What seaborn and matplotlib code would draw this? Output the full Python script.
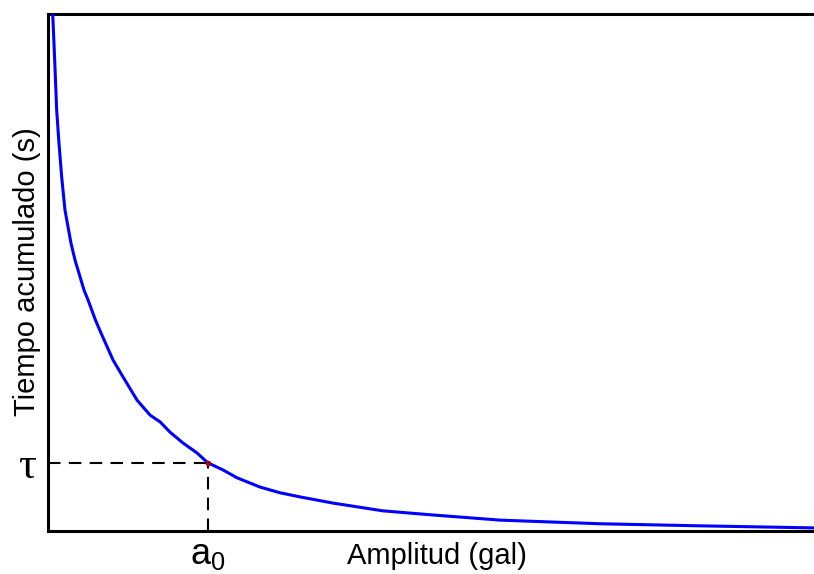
import numpy as np
import pandas as pd
import matplotlib
matplotlib.use("Agg")
import matplotlib.pyplot as plt
import seaborn as sns

sns.set_theme(style="white")
plt.rcParams['font.family'] = ['Liberation Sans', 'DejaVu Sans']

# curva (unidades arbitrarias 0-100)
amplitud = [0.6, 0.87, 1.13, 1.43, 1.78, 2.21, 2.99, 3.52, 4.69, 5.21, 6.18, 6.90,
            8.46, 9.77, 11.6, 13.3, 14.6, 15.9, 17.6, 19.4, 20.8, 22.8, 24.6, 27.6,
            30.2, 32.8, 37.1, 43.6, 50.1, 58.9, 71.9, 84.9, 99.7]
tiempo = [100.5, 91.1, 81.4, 75.0, 68.5, 62.1, 55.7, 52.4, 46.6, 44.7, 40.8, 38.3,
          33.1, 29.8, 25.3, 22.4, 21.1, 19.1, 17.0, 15.1, 13.2, 11.8, 10.3, 8.5,
          7.4, 6.6, 5.4, 3.9, 3.1, 2.1, 1.4, 1.0, 0.6]

a0 = 20.8
tau = 13.2

df = pd.DataFrame({"Amplitud": amplitud, "Tiempo": tiempo})

fig = plt.figure(figsize=(8.14, 5.74), dpi=100)
W, H = 814, 574
ax = fig.add_axes([48 / W, (H - 531) / H, (816 - 48) / W, (531 - 14) / H])

sns.lineplot(data=df, x="Amplitud", y="Tiempo", color="#0000ff", linewidth=2.2,
             estimator=None, sort=False, ax=ax, zorder=3)

# lineas de referencia
ax.plot([0, a0], [tau, tau], color="black", linewidth=1.5, linestyle=(0, (6, 4)), zorder=2)
ax.plot([a0, a0], [0, tau], color="black", linewidth=1.5, linestyle=(0, (6, 4)), zorder=2)
ax.plot([a0], [tau], marker="o", markersize=3, color="#aa0000", zorder=4)

ax.set_xlim(0, 100)
ax.set_ylim(0, 100)

ax.set_xticks([a0])
ax.set_xticklabels([r"$\mathregular{a_0}$"], fontsize=26, color="black")
ax.set_yticks([tau])
ax.set_yticklabels(["τ"], fontsize=32, color="black",
                   family=["Liberation Serif", "DejaVu Serif"])
ax.tick_params(axis="both", length=0)
ax.tick_params(axis="x", pad=4)
ax.tick_params(axis="y", pad=9)

ax.set_xlabel("Amplitud (gal)", fontsize=21, color="black")
ax.set_ylabel("Tiempo acumulado (s)", fontsize=21, color="black")
ax.xaxis.set_label_coords(0.5065, -0.022)
ax.yaxis.set_label_coords(-0.009, 0.501)

for side in ["left", "top", "bottom", "right"]:
    ax.spines[side].set_color("black")
    ax.spines[side].set_linewidth(2.2)

plt.savefig("out.png", dpi=100)
